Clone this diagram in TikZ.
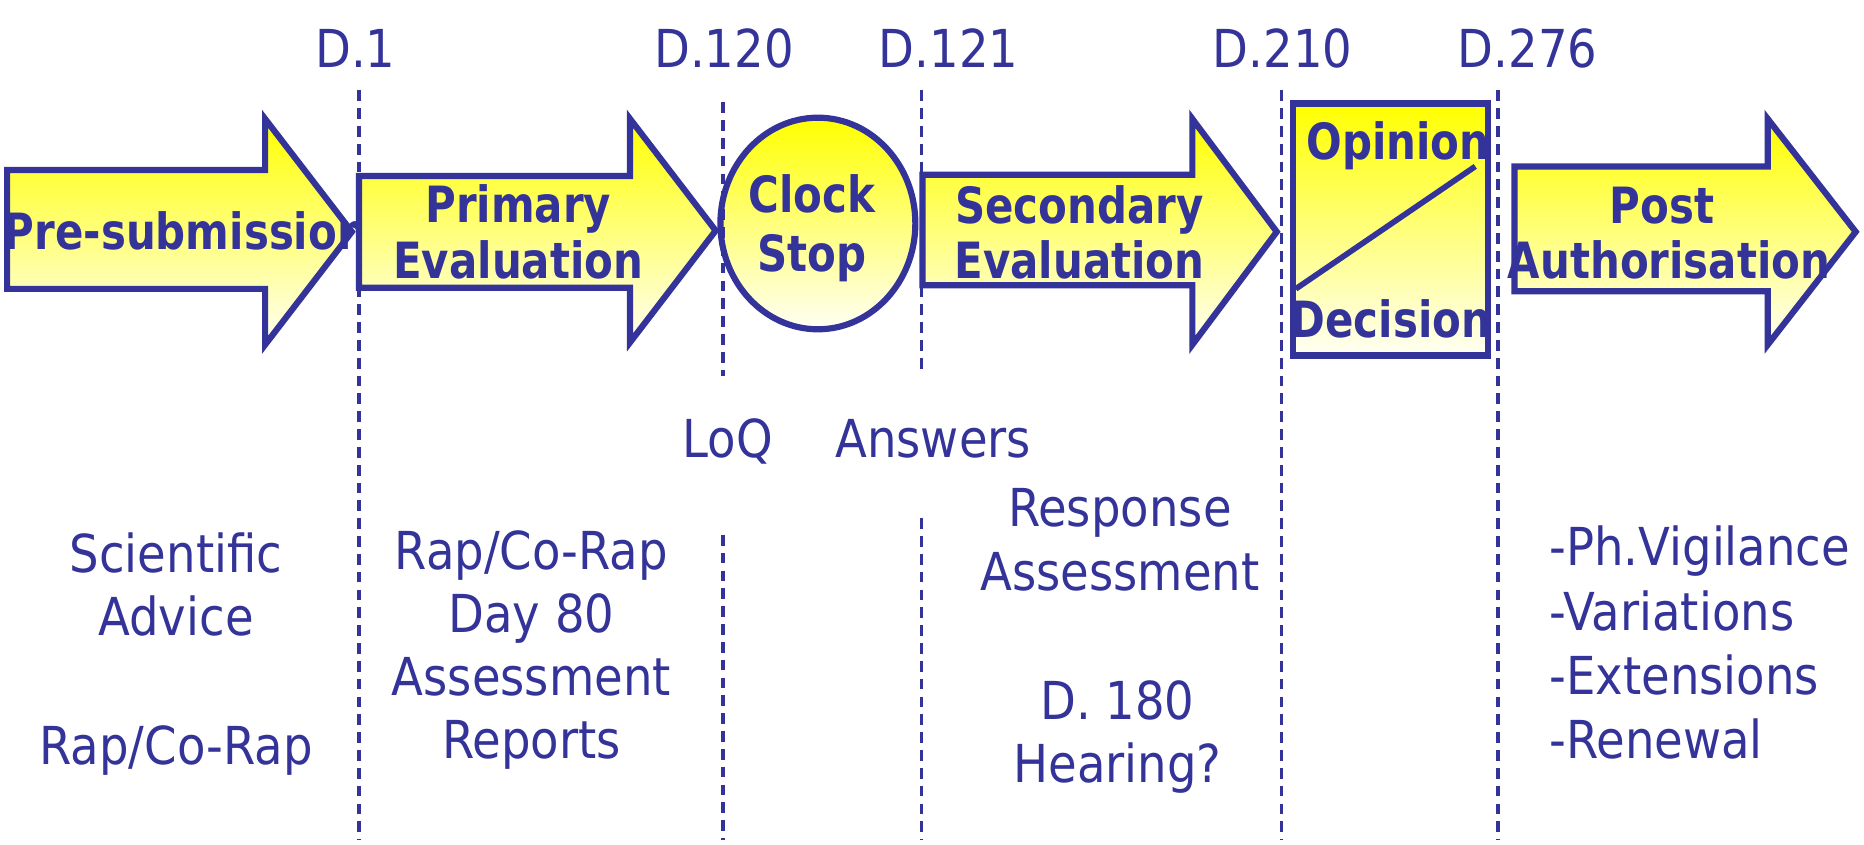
\documentclass[tikz,border=0pt]{standalone}
\usepackage{fontspec}
\setmainfont{DejaVu Sans}[FakeStretch=0.89,BoldFeatures={FakeStretch=0.84}]
\definecolor{emablue}{RGB}{51,51,153}
\tikzset{
	stage/.style={draw=emablue,line width=2.6pt,top color=yellow,bottom color=yellow!4},
	dayline/.style={draw=emablue,line width=1.5pt,dash pattern=on 4.5pt off 3pt},
	plain/.style={text=emablue,inner sep=0pt,anchor=base,font=\fontsize{22}{26}\selectfont},
	heavy/.style={text=emablue,inner sep=0pt,anchor=base,font=\fontsize{21}{24}\selectfont\bfseries},
}
\newcommand{\stagearrow}[7]{%
	\draw[stage] (#1,#4) -- (#2,#4) -- (#2,#6) -- (#3,{(#6+#7)/2}) -- (#2,#7) -- (#2,#5) -- (#1,#5) -- cycle;}
\begin{document}
\begin{tikzpicture}[x=0.5pt,y=0.5pt,yscale=-1]
	\useasboundingbox (0,0) rectangle (1568,710);
	\stagearrow{6}{223}{296}{143}{243}{100}{290}
	\node[heavy] (presub) at (156,210) {Pre-submission};
	\stagearrow{302}{530}{602}{148}{242}{100}{288}
	\node[heavy] (prim1) at (436,187) {Primary};
	\node[heavy] (prim2) at (436,234) {Evaluation};
	\draw[stage] (688,188) ellipse [x radius=82,y radius=89];
	\node[heavy] (clock1) at (683,179) {Clock};
	\node[heavy] (clock2) at (683,228) {Stop};
	\stagearrow{776}{1003}{1074}{147}{240}{100}{290}
	\node[heavy] (sec1) at (908,188) {Secondary};
	\node[heavy] (sec2) at (908,234) {Evaluation};
	\draw[stage] (1088,87) rectangle (1252,299);
	\draw[emablue,line width=2.4pt] (1090,243) -- (1241,140);
	\node[heavy] (opin) at (1176,134) {Opinion};
	\node[heavy] (deci) at (1170,284) {Decision};
	\stagearrow{1274}{1487}{1561}{140}{245}{100}{290}
	\node[heavy] (post1) at (1398,188) {Post};
	\node[heavy] (post2) at (1404,234) {Authorisation};
	\node[plain] (d1) at (299,57) {D.1};
	\node[plain] (d120) at (609,57) {D.120};
	\node[plain] (d121) at (798,57) {D.121};
	\node[plain] (d210) at (1079,57) {D.210};
	\node[plain] (d276) at (1285,57) {D.276};
	\node[plain] (loq) at (612,385) {LoQ};
	\node[plain] (answ) at (785,385) {Answers};
	\node[plain] (resp1) at (942,443) {Response};
	\node[plain] (resp2) at (942,497) {Assessment};
	\node[plain] (hear1) at (940,605) {D. 180};
	\node[plain] (hear2) at (940,658) {Hearing?};
	\node[plain] (sci1) at (148,482) {Scientific};
	\node[plain] (sci2) at (148,535) {Advice};
	\node[plain] (sci3) at (148,643) {Rap/Co-Rap};
	\foreach \t [count=\i] in {Rap/Co-Rap,Day 80,Assessment,Reports}
		\node[plain] (rep\i) at (447,{479+53*(\i-1)}) {\t};
	\foreach \t [count=\i] in {-Ph.Vigilance,-Variations,-Extensions,-Renewal}
		\node[plain,anchor=base west] (pa\i) at (1303,{476+54*(\i-1)}) {\t};
	\draw[dayline] (302,76) -- (302,707);
	\draw[dayline] (608,86) -- (608,316) (608,450) -- (608,707);
	\draw[dayline] (775,76) -- (775,316) (775,436) -- (775,707);
	\draw[dayline] (1078,76) -- (1078,707);
	\draw[dayline] (1260,76) -- (1260,707);
\end{tikzpicture}
\end{document}
